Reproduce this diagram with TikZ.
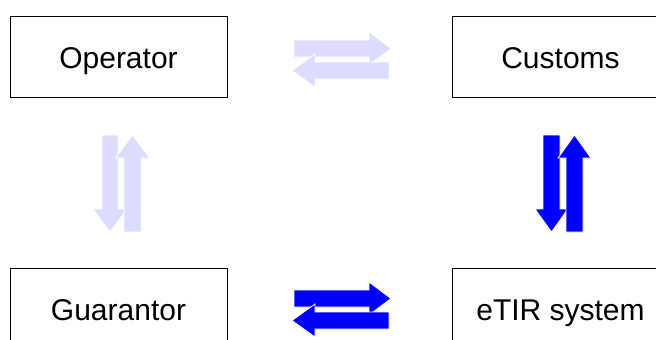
\documentclass[tikz,border=0pt]{standalone}
\usepackage{fontspec}
\setmainfont{Liberation Sans}
\definecolor{lav}{RGB}{220,220,255}
\definecolor{blu}{RGB}{0,0,255}
\tikzset{
  box/.style={draw=black, line width=0.9pt, minimum width=217pt, minimum height=81pt, inner sep=0pt, text height=23pt, text depth=0pt, font=\fontsize{30}{36}\selectfont},
  blk/.style={draw=white, line width=0.8pt, line join=miter},
}
\begin{document}
\begin{tikzpicture}[x=1pt,y=-1pt]
\clip (0,0) rectangle (656,340);
\fill[white] (0,0) rectangle (656,340);
% boxes
\node[box] (op) at (118.5,56.5) {Operator};
\node[box] (cu) at (560.5,56.5) {Customs};
\node[box] (gu) at (118.5,308.5) {Guarantor};
\node[box] (et) at (560.5,308.5) {eTIR system};
% top horizontal pair (light)
\fill[lav, blk] (294,40) -- (369,40) -- (369,32) -- (391,48.5) -- (369,65) -- (369,57) -- (294,57) -- cycle;
\fill[lav, blk] (292,70.5) -- (315,54) -- (315,62) -- (389,62) -- (389,79) -- (315,79) -- (315,87) -- cycle;
% bottom horizontal pair (blue)
\fill[blu, blk] (294,290) -- (369,290) -- (369,282) -- (391,298.5) -- (369,315) -- (369,307) -- (294,307) -- cycle;
\fill[blu, blk] (292,320.5) -- (315,304) -- (315,312) -- (389,312) -- (389,329) -- (315,329) -- (315,337) -- cycle;
% left vertical pair (light)
\fill[lav, blk] (102,135) -- (118,135) -- (118,209) -- (127,209) -- (110,232) -- (93,209) -- (102,209) -- cycle;
\fill[lav, blk] (132.5,135) -- (149.5,158) -- (141,158) -- (141,232) -- (124,232) -- (124,158) -- (115.5,158) -- cycle;
% right vertical pair (blue)
\fill[blu, blk] (543,135) -- (560,135) -- (560,209) -- (568,209) -- (551.5,232) -- (535,209) -- (543,209) -- cycle;
\fill[blu, blk] (574.5,135) -- (591,158) -- (583,158) -- (583,232) -- (566,232) -- (566,158) -- (558,158) -- cycle;
\end{tikzpicture}
\end{document}
